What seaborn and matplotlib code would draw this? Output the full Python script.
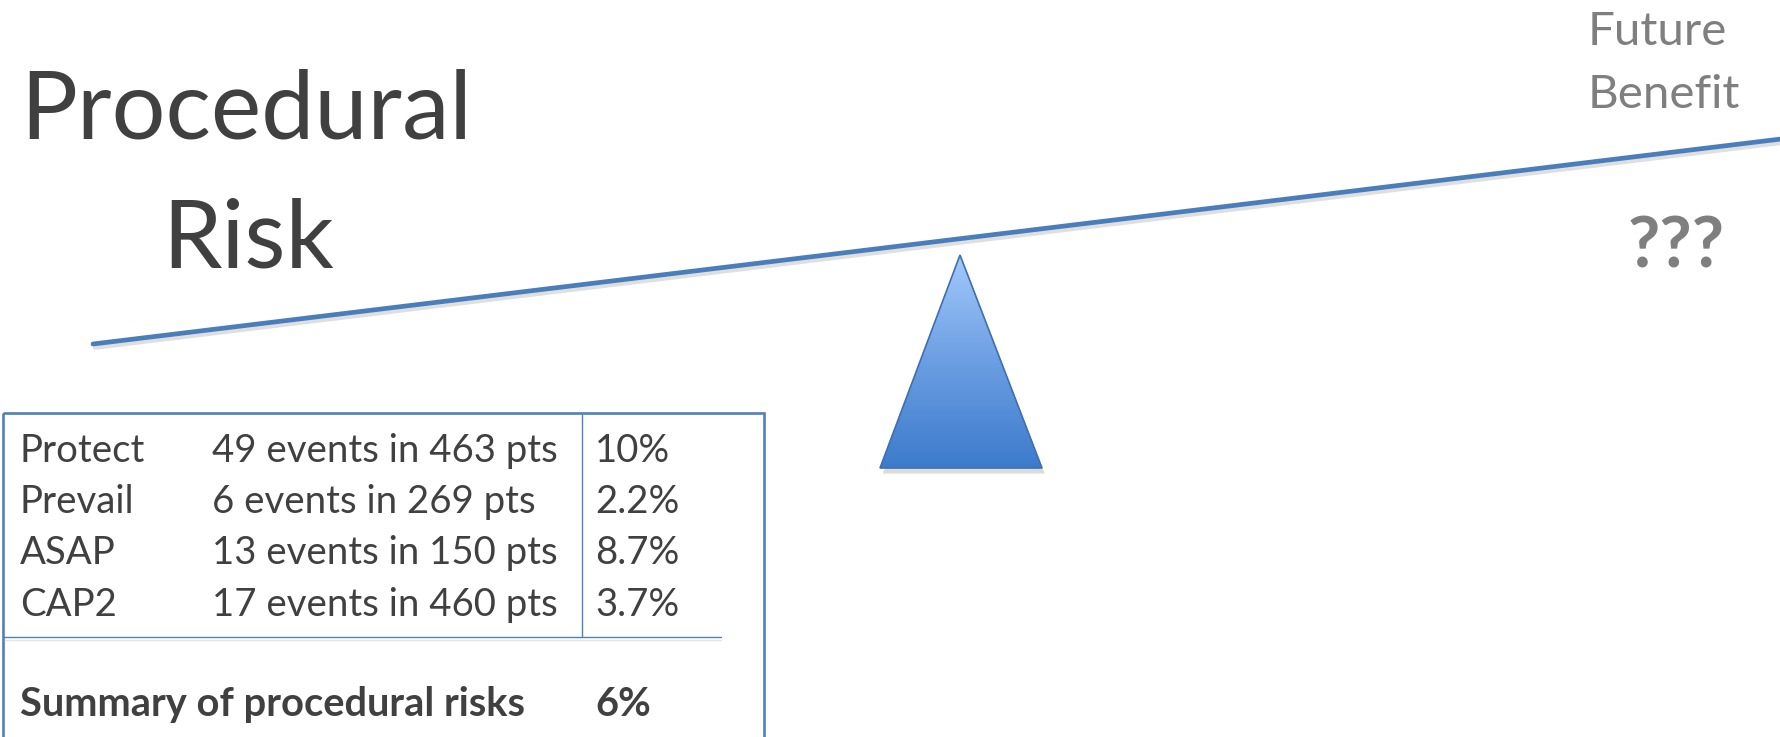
import numpy as np
import matplotlib
matplotlib.use("Agg")
import matplotlib.pyplot as plt
import matplotlib.patheffects as pe
from matplotlib.patches import Polygon, Rectangle
from matplotlib.colors import LinearSegmentedColormap
import seaborn as sns

# ---------------- data ----------------
trials = ["Protect", "Prevail", "ASAP", "CAP2"]
events = [49, 6, 13, 17]
patients = [463, 269, 150, 460]
rates = ["10%", "2.2%", "8.7%", "3.7%"]
summary_label = "Summary of procedural risks"
summary_rate = "6%"
title_lines = ["Procedural", "Risk"]
benefit_lines = ["Future", "Benefit"]
benefit_value = "???"

# ---------------- layout (pixel coordinates of the 1781x737 canvas) ----------------
W, H = 1781, 737
lever_x = [93, 1781]
lever_y = [344, 139]
fulcrum = [(960, 255), (880, 468), (1042, 468)]

sns.set_theme(style="white")
plt.rcParams["font.family"] = ["Lato", "DejaVu Sans"]

fig = plt.figure(figsize=(W / 100, H / 100), dpi=100)
ax = fig.add_axes([0, 0, 1, 1])
ax.set_xlim(0, W)
ax.set_ylim(H, 0)
ax.axis("off")

BLUE = "#4a7ebb"
DARK = "#404040"
GREY = "#7f7f7f"

# lever
sns.lineplot(x=lever_x, y=lever_y, ax=ax, color=BLUE, linewidth=3.4,
             path_effects=[pe.SimpleLineShadow(offset=(1.5, -2.5), shadow_color="#808080", alpha=0.25),
                           pe.Normal()])

# fulcrum triangle with gradient
poly = Polygon(fulcrum, closed=True, facecolor="none", edgecolor="#3f6fb0", linewidth=1.2, zorder=4)
shadow = Polygon(fulcrum, closed=True, facecolor="none", edgecolor="none",
                 path_effects=[pe.SimplePatchShadow(offset=(2, -4), shadow_rgbFace="#888888", alpha=0.3)])
ax.add_patch(shadow)
ax.add_patch(poly)
cmap = LinearSegmentedColormap.from_list("tri", ["#a3c9fb", "#6b9ee2", "#3c7bcc"])
grad = np.linspace(0, 1, 256).reshape(-1, 1)
img = ax.imshow(grad, cmap=cmap, extent=[880, 1042, 468, 255], origin="upper",
                aspect="auto", zorder=3)
img.set_clip_path(poly)
ax.set_xlim(0, W)
ax.set_ylim(H, 0)

# table box
ax.add_patch(Rectangle((3, 413), 761, 400, facecolor="none", edgecolor="#4f81bd", linewidth=1.9, zorder=5))
ax.plot([582, 582], [413, 637], color="#4f81bd", linewidth=1.0, zorder=5)
ax.plot([3, 721], [637, 637], color="#4f81bd", linewidth=1.0, zorder=5,
        path_effects=[pe.SimpleLineShadow(offset=(0, -2.5), shadow_color="#999999", alpha=0.25), pe.Normal()])

renderer = fig.canvas.get_renderer()


def fit(t, target_w):
    t.set_fontsize(40)
    w = t.get_window_extent(renderer).width
    t.set_fontsize(40 * target_w / w)
    return t.get_fontsize()


# title
t = ax.text(20, 138, title_lines[0], color=DARK, ha="left", va="baseline")
fs_title = fit(t, 452)
ax.text(248.5, 267, title_lines[1], color=DARK, ha="center", va="baseline", fontsize=fs_title)

# future benefit
t = ax.text(1588, 108, benefit_lines[1], color=GREY, ha="left", va="baseline")
fs_ben = fit(t, 152)
ax.text(1588, 45, benefit_lines[0], color=GREY, ha="left", va="baseline", fontsize=fs_ben)
t = ax.text(1628, 267, benefit_value, color=GREY, ha="left", va="baseline", fontweight="bold")
fit(t, 97)

# table text
rows_y = [462, 513, 564, 616]
ev_texts = [f"{e} events in {p} pts" for e, p in zip(events, patients)]
probe = ax.text(212, rows_y[0], ev_texts[0], color=DARK, ha="left", va="baseline")
fs_tab = fit(probe, 345)
probe.remove()
for y, name, ev, r in zip(rows_y, trials, ev_texts, rates):
    ax.text(20, y, name, color=DARK, ha="left", va="baseline", fontsize=fs_tab)
    ax.text(212, y, ev, color=DARK, ha="left", va="baseline", fontsize=fs_tab)
    ax.text(595, y, r, color=DARK, ha="left", va="baseline", fontsize=fs_tab)

t = ax.text(20, 716, summary_label, color=DARK, ha="left", va="baseline", fontweight="bold")
fs_sum = fit(t, 506)
ax.text(595, 716, summary_rate, color=DARK, ha="left", va="baseline", fontweight="bold", fontsize=fs_sum)

fig.savefig("out.png", dpi=100)
